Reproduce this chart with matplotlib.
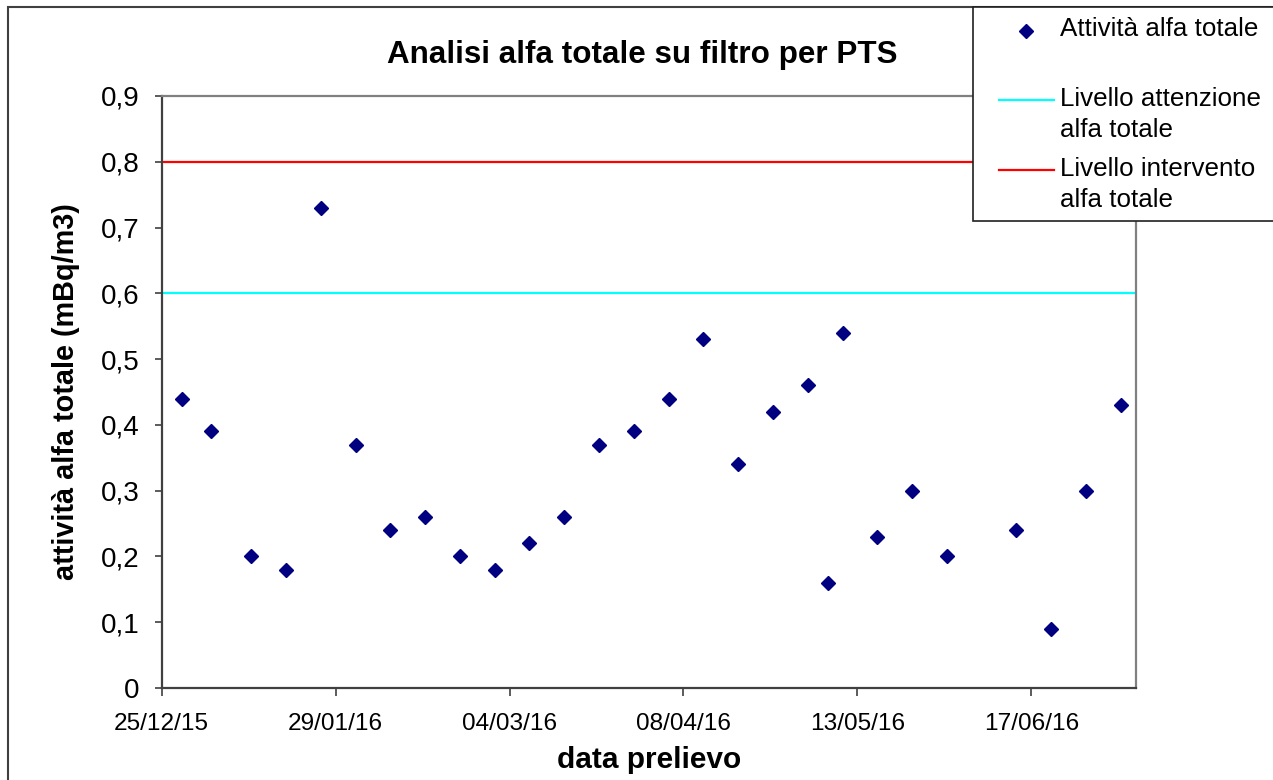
import datetime as dt
import matplotlib
matplotlib.use("Agg")
import matplotlib.pyplot as plt
import matplotlib.dates as mdates
from matplotlib.patches import Rectangle
from matplotlib.lines import Line2D
from matplotlib.ticker import FuncFormatter

plt.rcParams["font.family"] = ["Liberation Sans", "DejaVu Sans"]

# sampling dates and total alpha activity (mBq/m3)
dates = ["29/12/15", "04/01/16", "12/01/16", "19/01/16", "26/01/16", "02/02/16",
         "09/02/16", "16/02/16", "23/02/16", "01/03/16", "08/03/16", "15/03/16",
         "22/03/16", "29/03/16", "05/04/16", "12/04/16", "19/04/16", "26/04/16",
         "03/05/16", "07/05/16", "10/05/16", "17/05/16", "24/05/16", "31/05/16",
         "14/06/16", "21/06/16", "28/06/16", "05/07/16"]
activity = [0.44, 0.39, 0.20, 0.18, 0.73, 0.37, 0.24, 0.26, 0.20, 0.18, 0.22, 0.26,
            0.37, 0.39, 0.44, 0.53, 0.34, 0.42, 0.46, 0.16, 0.54, 0.23, 0.30, 0.20,
            0.24, 0.09, 0.30, 0.43]
attention_level = 0.6
intervention_level = 0.8
x_start = "25/12/15"
x_end = "08/07/16"
tick_step_days = 35

W, H = 1273, 780
fig = plt.figure(figsize=(W / 100, H / 100), dpi=100)
fig.patch.set_facecolor("white")

def fx(px):
    return px / W

def fy(py):
    return 1 - py / H

ax = fig.add_axes([fx(161.7), fy(688), fx(1135.7) - fx(161.7), fy(96) - fy(688)])

x = [dt.datetime.strptime(d, "%d/%m/%y") for d in dates]
t0 = dt.datetime.strptime(x_start, "%d/%m/%y")
t1 = dt.datetime.strptime(x_end, "%d/%m/%y")

ax.axhline(attention_level, color="#00FFFF", lw=1.6, zorder=2)
ax.axhline(intervention_level, color="#FF0000", lw=1.6, zorder=2)
ax.plot(x, activity, linestyle="none", marker="D", ms=7.4, color="#000080", zorder=3)

ax.set_xlim(t0, t1)
ax.set_ylim(0, 0.9)
ticks = []
t = t0
while t <= t1:
    ticks.append(t)
    t += dt.timedelta(days=tick_step_days)
ax.set_xticks(ticks)
ax.xaxis.set_major_formatter(mdates.DateFormatter("%d/%m/%y"))
ax.set_yticks([i / 10 for i in range(10)])
ax.yaxis.set_major_formatter(FuncFormatter(
    lambda v, p: "0" if abs(v) < 1e-9 else f"{v:.1f}".replace(".", ",")))

ax.tick_params(axis="y", direction="out", length=5, width=1.2, pad=11,
               labelsize=20, color="#404040")
ax.tick_params(axis="x", direction="out", length=6, width=1.2, pad=12,
               labelsize=17.6, color="#404040")
for s in ["left", "bottom"]:
    ax.spines[s].set_color("#404040")
    ax.spines[s].set_linewidth(1.6)
for s in ["top", "right"]:
    ax.spines[s].set_color("#808080")
    ax.spines[s].set_linewidth(1.6)

ax.set_ylabel("attività alfa totale (mBq/m3)", fontsize=20.8, fontweight="bold")
ax.yaxis.set_label_coords(-0.084, 0.5)
ax.set_xlabel("data prelievo", fontsize=21.5, fontweight="bold")
ax.xaxis.set_label_coords(0.5, -0.098)

fig.text(fx(642), fy(55), "Analisi alfa totale su filtro per PTS",
         ha="center", va="center", fontsize=22.6, fontweight="bold")

# outer chart border
fig.add_artist(Rectangle((fx(8), -0.05), 1.2, fy(7) + 0.05, transform=fig.transFigure,
                         fill=False, edgecolor="#404040", lw=1.5, zorder=1))

# legend box
fig.add_artist(Rectangle((fx(973), fy(221)), 0.4, fy(7) - fy(221),
                         transform=fig.transFigure, facecolor="white",
                         edgecolor="#202020", lw=1.2, zorder=4))
fig.add_artist(Line2D([fx(1026)], [fy(31)], transform=fig.transFigure,
                      linestyle="none", marker="D", ms=7.4, color="#000080", zorder=5))
fig.add_artist(Line2D([fx(999), fx(1054)], [fy(100), fy(100)], transform=fig.transFigure,
                      color="#00FFFF", lw=1.6, zorder=5))
fig.add_artist(Line2D([fx(999), fx(1054)], [fy(170), fy(170)], transform=fig.transFigure,
                      color="#FF0000", lw=1.6, zorder=5))
legend_lines = [("Attività alfa totale", 36), ("Livello attenzione", 106),
                ("alfa totale", 137), ("Livello intervento", 176), ("alfa totale", 207)]
for txt, base in legend_lines:
    fig.text(fx(1060), fy(base), txt, ha="left", va="baseline", fontsize=18.7, zorder=6)

fig.savefig("out.png", dpi=100)
